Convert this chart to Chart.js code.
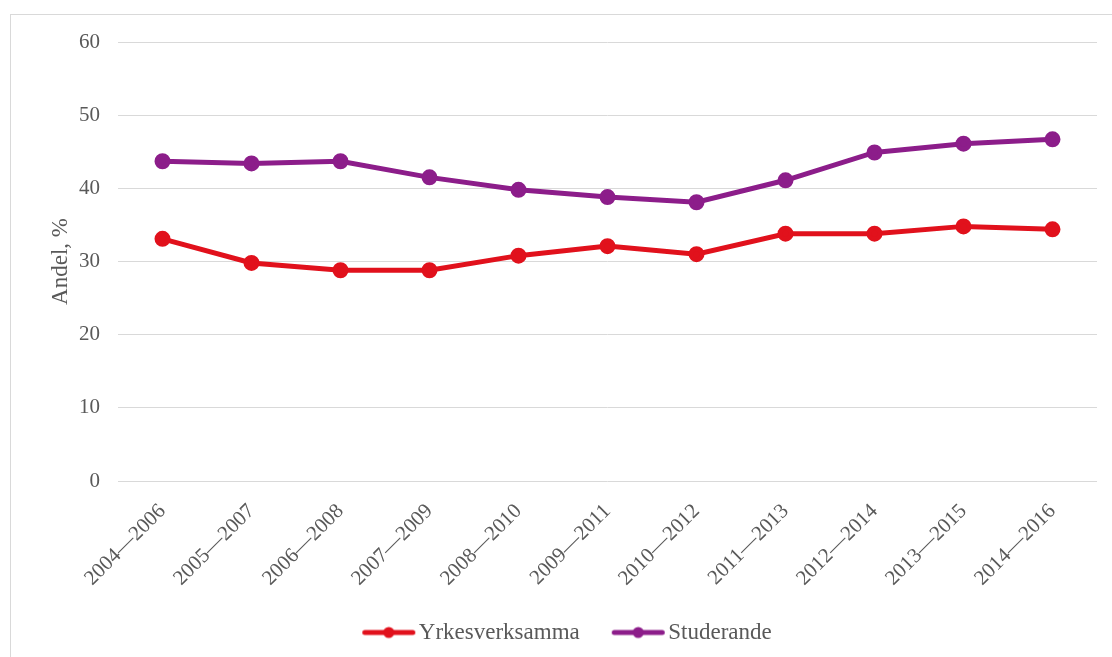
<!DOCTYPE html>
<html>
<head>
<meta charset="utf-8">
<script src="https://cdn.jsdelivr.net/npm/chart.js@4.4.1/dist/chart.umd.min.js"></script>
<style>
  html, body { margin: 0; padding: 0; background: #fff; }
  #wrap { position: relative; width: 1112px; height: 657px; overflow: hidden; }
  #frame {
    position: absolute; left: 10px; top: 14px; right: -2px; bottom: -2px;
    border: 1px solid #d9d9d9;
  }
  canvas { position: absolute; left: 0; top: 0; }
</style>
</head>
<body>
<div id="wrap">
  <div id="frame"></div>
  <canvas id="chart" width="1112" height="657"></canvas>
</div>
<script>
  // periods along the x axis
  const periods = [
    "2004\u20142006", "2005\u20142007", "2006\u20142008", "2007\u20142009",
    "2008\u20142010", "2009\u20142011", "2010\u20142012", "2011\u20142013",
    "2012\u20142014", "2013\u20142015", "2014\u20142016"
  ];

  // share in percent
  const yrkesverksamma = [33.1, 29.8, 28.8, 28.8, 30.8, 32.1, 31.0, 33.8, 33.8, 34.8, 34.4];
  const studerande = [43.7, 43.4, 43.7, 41.5, 39.8, 38.8, 38.1, 41.1, 44.9, 46.1, 46.7];

  const yTicks = [0, 10, 20, 30, 40, 50, 60];

  const RED = "#e1111c";
  const PURPLE = "#8c1d8a";
  const TEXT = "#595959";
  const FONT = "'Liberation Serif', 'DejaVu Serif', serif";
  const LEGEND_SIZE = 23;

  // legend marker: short line with a dot in the middle,
  // drawn off-centre so it sits right up against the label text
  function legendMarker(color) {
    const c = document.createElement("canvas");
    c.width = 100;
    c.height = 14;
    const ctx = c.getContext("2d");
    const x0 = 50 - 27 + (LEGEND_SIZE / 2 - 3);
    ctx.strokeStyle = color;
    ctx.lineWidth = 5;
    ctx.lineCap = "round";
    ctx.beginPath();
    ctx.moveTo(x0 + 3, 7);
    ctx.lineTo(x0 + 51, 7);
    ctx.stroke();
    ctx.fillStyle = color;
    ctx.beginPath();
    ctx.arc(x0 + 27, 7, 5.5, 0, Math.PI * 2);
    ctx.fill();
    return c;
  }

  const markers = [legendMarker(RED), legendMarker(PURPLE)];

  new Chart(document.getElementById("chart"), {
    type: "line",
    data: {
      labels: periods,
      datasets: [
        {
          label: "Yrkesverksamma",
          data: yrkesverksamma,
          borderColor: RED,
          backgroundColor: RED,
          borderWidth: 5,
          pointRadius: 5.5,
          pointHoverRadius: 5.5,
          tension: 0
        },
        {
          label: "Studerande",
          data: studerande,
          borderColor: PURPLE,
          backgroundColor: PURPLE,
          borderWidth: 5,
          pointRadius: 5.5,
          pointHoverRadius: 5.5,
          tension: 0
        }
      ]
    },
    options: {
      responsive: false,
      animation: false,
      layout: {
        padding: { left: 28, right: 15, top: 42, bottom: 3 }
      },
      plugins: {
        tooltip: { enabled: false },
        legend: {
          position: "bottom",
          labels: {
            color: TEXT,
            font: { family: FONT, size: LEGEND_SIZE },
            usePointStyle: true,
            pointStyleWidth: 54,
            padding: 23,
            generateLabels: (chart) =>
              Chart.defaults.plugins.legend.labels.generateLabels(chart).map((item, i) => ({
                ...item,
                pointStyle: markers[i]
              }))
          }
        }
      },
      scales: {
        x: {
          offset: true,
          grid: { display: false, drawTicks: false },
          border: { display: false },
          ticks: {
            color: TEXT,
            font: { family: FONT, size: 21 },
            minRotation: 45,
            maxRotation: 45,
            autoSkip: false,
            padding: 18
          },
          afterFit: (axis) => { axis.height = 117; }
        },
        y: {
          min: 0,
          max: 60,
          afterBuildTicks: (axis) => { axis.ticks = yTicks.map((v) => ({ value: v })); },
          grid: { color: "#d9d9d9", lineWidth: 1, drawTicks: false },
          border: { display: false },
          ticks: {
            color: TEXT,
            font: { family: FONT, size: 21 },
            padding: 18
          },
          title: {
            display: true,
            text: "Andel, %",
            color: TEXT,
            font: { family: FONT, size: 23 },
            padding: { top: 19, bottom: 0 }
          },
          afterFit: (axis) => { axis.width = 90; }
        }
      }
    }
  });
</script>
</body>
</html>
